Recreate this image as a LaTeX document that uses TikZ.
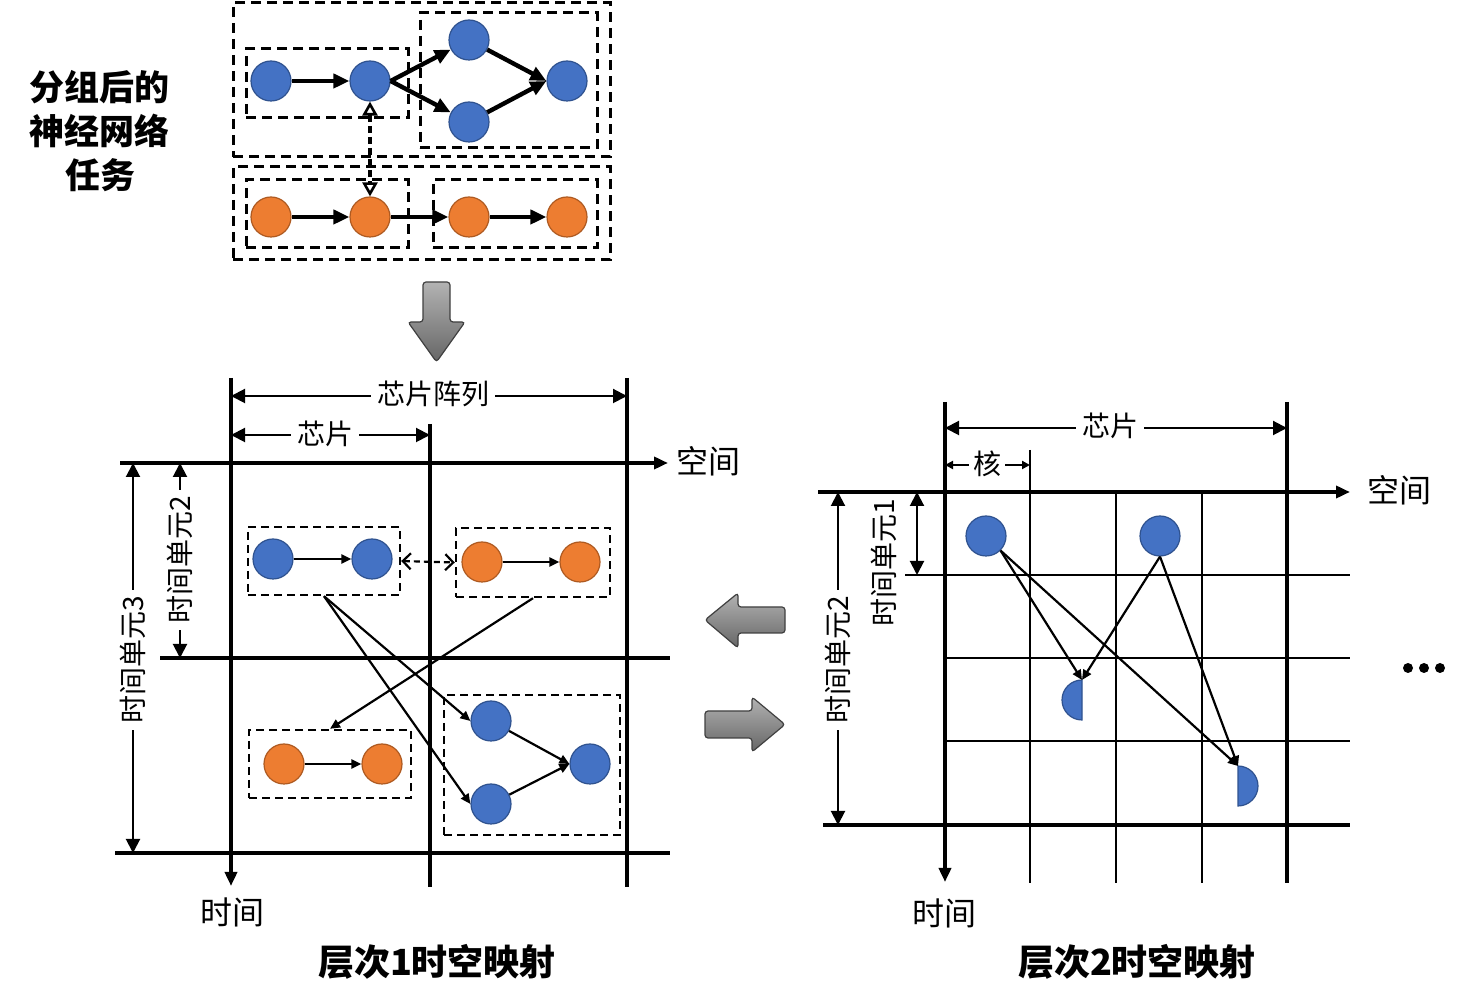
\documentclass[tikz,border=0pt]{standalone}
\usepackage{fontspec}
\setmainfont{Noto Sans CJK SC}
\usetikzlibrary{arrows.meta}
\definecolor{nblue}{RGB}{68,114,196}
\definecolor{nblueD}{RGB}{47,82,143}
\definecolor{norange}{RGB}{237,125,49}
\definecolor{norangeD}{RGB}{174,90,33}
\begin{document}
\begin{tikzpicture}[x=0.5pt,y=-0.5pt,
  bnode/.style={circle,fill=nblue,draw=nblueD,line width=0.6pt,minimum size=20pt,inner sep=0pt},
  onode/.style={circle,fill=norange,draw=norangeD,line width=0.6pt,minimum size=20pt,inner sep=0pt},
  tbox/.style={draw,line width=1.5pt,dash pattern=on 5pt off 3pt,inner sep=0pt},
  pbox/.style={draw,line width=1.2pt,dash pattern=on 4pt off 2.5pt,inner sep=0pt},
  tarr/.style={line width=2.2pt,-{Triangle[length=8pt,width=7pt]}},
  parr/.style={line width=1.1pt,-{Triangle[length=5pt,width=4.5pt]}},
  thick axis/.style={line width=2pt},
  thin grid/.style={line width=1pt},
  axarr/.style={line width=2pt,-{Triangle[length=7pt,width=6pt]}},
  dimarr/.style={line width=1pt,{Triangle[length=7pt,width=7pt]}-{Triangle[length=7pt,width=7pt]}},
  smalldim/.style={line width=1pt,{Triangle[length=4pt,width=4pt]}-{Triangle[length=4pt,width=4pt]}},
  lbl/.style={font=\fontsize{14pt}{16pt}\selectfont,inner sep=1pt},
  axlbl/.style={font=\fontsize{16pt}{18pt}\selectfont,inner sep=1pt},
  wlbl/.style={lbl,fill=white,inner sep=3pt},
  title/.style={font=\fontsize{18pt}{20pt}\selectfont\bfseries},
  garrow/.style={draw=black!75,line width=0.6pt,rounded corners=1.5pt,top color=gray!60,bottom color=gray!80!black}
]
\useasboundingbox (0,0) rectangle (1474,1004);

% ---------- top: grouped tasks ----------
\node[font=\fontsize{17.5pt}{22pt}\selectfont\bfseries,align=center] (grp) at (100,131) {分组后的\\神经网络\\任务};

\node[tbox,minimum width=188.5pt,minimum height=77pt] (tb1) at (421.5,80) {};
\node[tbox,minimum width=188.5pt,minimum height=46.5pt] (tb2) at (421.5,213.5) {};
\node[tbox,minimum width=81pt,minimum height=34.5pt] (tb3) at (327,83.5) {};
\node[tbox,minimum width=88.5pt,minimum height=67.5pt] (tb4) at (508.5,80.5) {};
\node[tbox,minimum width=81pt,minimum height=34pt] (tb5) at (327,214) {};
\node[tbox,minimum width=82pt,minimum height=34pt] (tb6) at (515,214) {};

\node[bnode] (a1) at (271,81) {};
\node[bnode] (a2) at (370,81) {};
\node[bnode] (a3) at (469,40) {};
\node[bnode] (a4) at (469,122) {};
\node[bnode] (a5) at (567,81) {};
\node[onode] (o1) at (271,217) {};
\node[onode] (o2) at (370,217) {};
\node[onode] (o3) at (469,217) {};
\node[onode] (o4) at (567,217) {};

\draw[tarr] (a1) -- (a2);
\draw[tarr] (a2.east) -- (a3);
\draw[tarr] (a2.east) -- (a4);
\draw[tarr] (a3) -- (a5.west);
\draw[tarr] (a4) -- (a5.west);
\draw[tarr] (o1) -- (o2);
\draw[tarr] (o2) -- (o3);
\draw[tarr] (o3) -- (o4);
\draw[line width=1.6pt,dash pattern=on 3.5pt off 2pt,{Triangle[open,length=7pt,width=7.5pt,line width=1.3pt]}-{Triangle[open,length=7pt,width=7.5pt,line width=1.3pt]}] (a2.south) -- (o2.north);

% big down arrow
\path[garrow] (423,282) -- (450,282) -- (450,322) -- (465,322) -- (436.5,362) -- (408,322) -- (423,322) -- cycle;

% ---------- left panel ----------
\coordinate (lv1t) at (231,378); \coordinate (lv1b) at (231,886);
\coordinate (lv2t) at (430,424); \coordinate (lv2b) at (430,887);
\coordinate (lv3t) at (627,378); \coordinate (lv3b) at (627,887);
\draw[axarr] (lv1t) -- (lv1b);
\draw[thick axis] (lv2t) -- (lv2b);
\draw[thick axis] (lv3t) -- (lv3b);
\coordinate (lh1l) at (120,463); \coordinate (lh1r) at (668,463);
\draw[axarr] (lh1l) -- (lh1r);
\draw[thick axis] (160,658) -- (670,658);
\draw[thick axis] (115,853) -- (670,853);

\node[axlbl,anchor=west] (lsp) at (674,461) {空间};
\node[axlbl] (ltm) at (232,912) {时间};
\node[title] (lt) at (437,962) {层次1时空映射};

\coordinate (d1l) at (231,396); \coordinate (d1r) at (627,396);
\draw[dimarr] (d1l) -- (d1r);
\node[wlbl] (dl1) at (433,394) {芯片阵列};
\coordinate (d2l) at (231,435); \coordinate (d2r) at (430,435);
\draw[dimarr] (d2l) -- (d2r);
\node[wlbl] (dl2) at (325,434) {芯片};
\coordinate (d3t) at (133,463); \coordinate (d3b) at (133,853);
\draw[dimarr] (d3t) -- (d3b);
\node[wlbl,rotate=90] (dl3) at (133,660) {时间单元3};
\coordinate (d4t) at (180,463); \coordinate (d4b) at (180,658);
\draw[dimarr] (d4t) -- (d4b);
\node[wlbl,rotate=90] (dl4) at (180,560) {时间单元2};

\node[pbox,minimum width=76pt,minimum height=34pt] (pb1) at (324,561) {};
\node[pbox,minimum width=77pt,minimum height=34.5pt] (pb2) at (533,562.5) {};
\node[pbox,minimum width=81pt,minimum height=34pt] (pb3) at (330,764) {};
\node[pbox,minimum width=88pt,minimum height=70pt] (pb4) at (532,765) {};

\node[bnode] (p1) at (273,559) {};
\node[bnode] (p2) at (372,559) {};
\node[onode] (p3) at (482,562) {};
\node[onode] (p4) at (580,562) {};
\node[onode] (p5) at (284,764) {};
\node[onode] (p6) at (382,764) {};
\node[bnode] (p7) at (491,721) {};
\node[bnode] (p8) at (491,804) {};
\node[bnode] (p9) at (590,764) {};

\draw[parr] (p1) -- (p2);
\draw[parr] (p3) -- (p4);
\draw[parr] (p5) -- (p6);
\draw[parr] (p7) -- (p9.west);
\draw[parr] (p8) -- (p9.west);
\draw[parr] (pb1.south) -- (p7.west);
\draw[parr] (pb1.south) -- (p8.west);
\draw[parr] (pb2.south) -- (pb3.north);
\draw[line width=1.1pt,dash pattern=on 3pt off 2pt,{Straight Barb[length=4pt,width=8pt]}-{Straight Barb[length=4pt,width=8pt]}] (pb1.east) -- (pb2.west);

% middle gray arrows
\path[garrow] (705,620) -- (738,593) -- (738,607) -- (785,607) -- (785,633) -- (738,633) -- (738,648) -- cycle;
\path[garrow] (705,711) -- (752,711) -- (752,697) -- (785,724.5) -- (752,752) -- (752,738) -- (705,738) -- cycle;

% ---------- right panel ----------
\draw[thin grid] (1030,450) -- (1030,883);
\draw[thin grid] (1116,492) -- (1116,883);
\draw[thin grid] (1202,492) -- (1202,883);
\draw[thin grid] (905,575) -- (1350,575);
\draw[thin grid] (945,658) -- (1350,658);
\draw[thin grid] (945,741) -- (1350,741);
\coordinate (rv1t) at (945,402); \coordinate (rv1b) at (945,882);
\draw[axarr] (rv1t) -- (rv1b);
\draw[thick axis] (1287,402) -- (1287,883);
\coordinate (rh1l) at (818,492); \coordinate (rh1r) at (1350,492);
\draw[axarr] (rh1l) -- (rh1r);
\draw[thick axis] (823,825) -- (1350,825);

\node[axlbl,anchor=west] (rsp) at (1365,490) {空间};
\node[axlbl] (rtm) at (944,913) {时间};
\node[title] (rt) at (1137,962) {层次2时空映射};

\coordinate (e1l) at (945,428); \coordinate (e1r) at (1287,428);
\draw[dimarr] (e1l) -- (e1r);
\node[wlbl] (el1) at (1110,426) {芯片};
\coordinate (e2l) at (945,465); \coordinate (e2r) at (1030,465);
\draw[smalldim] (e2l) -- (e2r);
\node[wlbl,inner sep=2pt] (el2) at (987,464) {核};
\coordinate (e3t) at (917,492); \coordinate (e3b) at (917,575);
\draw[dimarr] (e3t) -- (e3b);
\node[lbl,rotate=90] (el3) at (884,563) {时间单元1};
\coordinate (e4t) at (838,492); \coordinate (e4b) at (838,825);
\draw[dimarr] (e4t) -- (e4b);
\node[wlbl,rotate=90] (el4) at (838,660) {时间单元2};

\node[bnode] (r1) at (986,536) {};
\node[bnode] (r2) at (1160,536) {};
\fill[nblue,draw=nblueD,line width=0.6pt] (1082,680) arc[start angle=-90,end angle=-270,radius=20] -- cycle;
\fill[nblue,draw=nblueD,line width=0.6pt] (1238,766) arc[start angle=-90,end angle=90,radius=20] -- cycle;
\coordinate (h1) at (1082,680);
\coordinate (h2) at (1238,766);
\draw[parr] (r1.south east) -- (h1);
\draw[parr] (r1.south east) -- (h2);
\draw[parr] (r2.south) -- (h1);
\draw[parr] (r2.south) -- (h2);

% ellipsis
\fill (1408,668) circle[radius=5];
\fill (1424,668) circle[radius=5];
\fill (1440,668) circle[radius=5];
\end{tikzpicture}
\end{document}
